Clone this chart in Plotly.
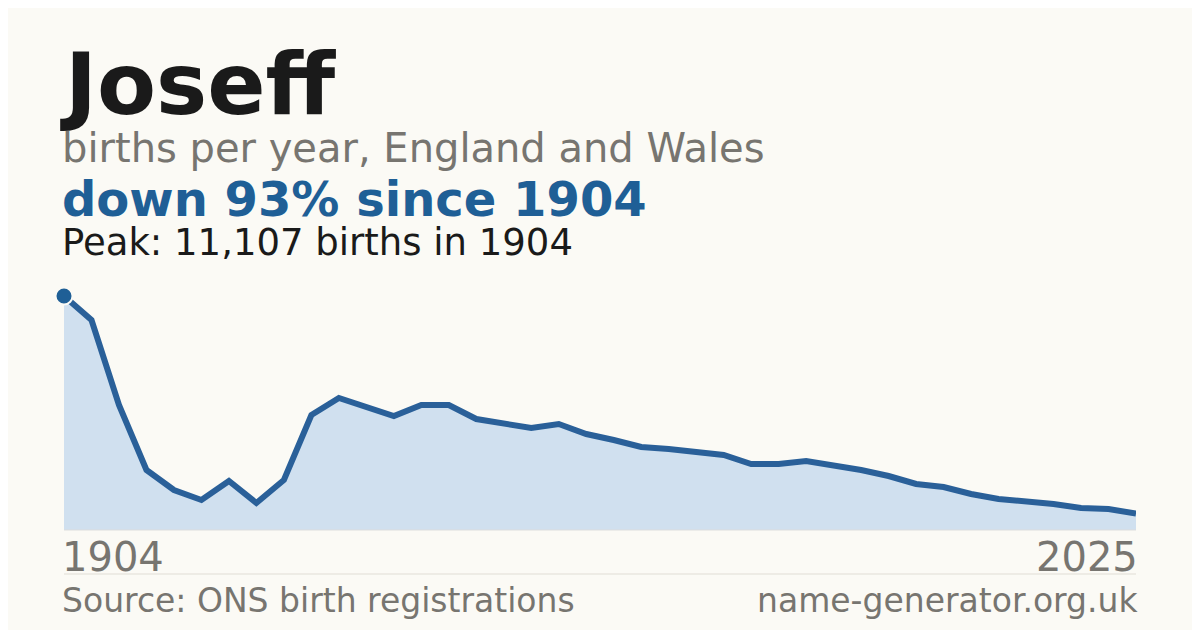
import plotly.graph_objects as go

idx = list(range(40))
births = [11107, 9969, 5934, 2848, 1899, 1424, 2326, 1282, 2374, 5459,
          6266, 5839, 5412, 5934, 5934, 5269, 5079, 4842, 5032, 4557,
          4272, 3940, 3845, 3703, 3560, 3133, 3133, 3275, 3086, 2848,
          2563, 2184, 2041, 1709, 1472, 1377, 1234, 1044, 997, 780]
start_label, end_label = "1904", "2025"

OFF = 8  # page body margin
W, H = 1200, 630
L, R, T, B = 64 - OFF, 1136 - OFF, 296 - OFF, 530 - OFF
def py(p):
    return (B - (p - OFF)) / (B - T)
fx = lambda p: ((p - OFF) - L) / (R - L)

fig = go.Figure()
fig.add_trace(go.Scatter(x=idx, y=births, mode="lines", fill="tozeroy",
                         fillcolor="#d0e0ef", line=dict(color="#2a6099", width=6),
                         hoverinfo="skip"))
fig.add_trace(go.Scatter(x=[idx[0]], y=[births[0]], mode="markers",
                         marker=dict(color="#1f5f96", size=17, line=dict(color="#fbfaf5", width=2)),
                         cliponaxis=False, hoverinfo="skip"))

ann = []
def A(text, x, y, size, color, xanchor="left", bold=False):
    ann.append(dict(text=f"<b>{text}</b>" if bold else text, x=x, y=py(y), xref="paper", yref="paper",
                    xanchor=xanchor, yanchor="middle", showarrow=False,
                    font=dict(size=size, color=color, family="DejaVu Sans")))
A("Joseff", fx(58), 84, 86, "#1a1a1a", bold=True)
A("births per year, England and Wales", fx(60), 148, 40, "#777570")
A("down 93% since 1904", fx(60), 199, 48, "#1f5f96", bold=True)
A("Peak: 11,107 births in 1904", fx(60), 242, 37, "#1a1a1a")
A(start_label, fx(60), 557, 40, "#777570")
A(end_label, fx(1140), 557, 40, "#777570", xanchor="right")
A("Source: ONS birth registrations", fx(60), 600, 33, "#777570")
A("name-generator.org.uk", fx(1140), 600, 33, "#777570", xanchor="right")

fig.update_layout(
    width=W, height=H, margin=dict(l=L, r=W - R, t=T, b=H - B),
    paper_bgcolor="#fbfaf5", plot_bgcolor="#fbfaf5", showlegend=False,
    xaxis=dict(range=[0, 39], visible=False, fixedrange=True),
    yaxis=dict(range=[0, 11107], visible=False, fixedrange=True),
    annotations=ann,
    shapes=[dict(type="line", xref="paper", yref="paper", x0=0, x1=1, y0=py(574), y1=py(574),
                 line=dict(color="#e0ddd5", width=1)),
            dict(type="line", xref="paper", yref="paper", x0=0, x1=1, y0=0, y1=0,
                 line=dict(color="#dddddd", width=1))],
)
fig.write_html("out.html", config={"displayModeBar": False})
